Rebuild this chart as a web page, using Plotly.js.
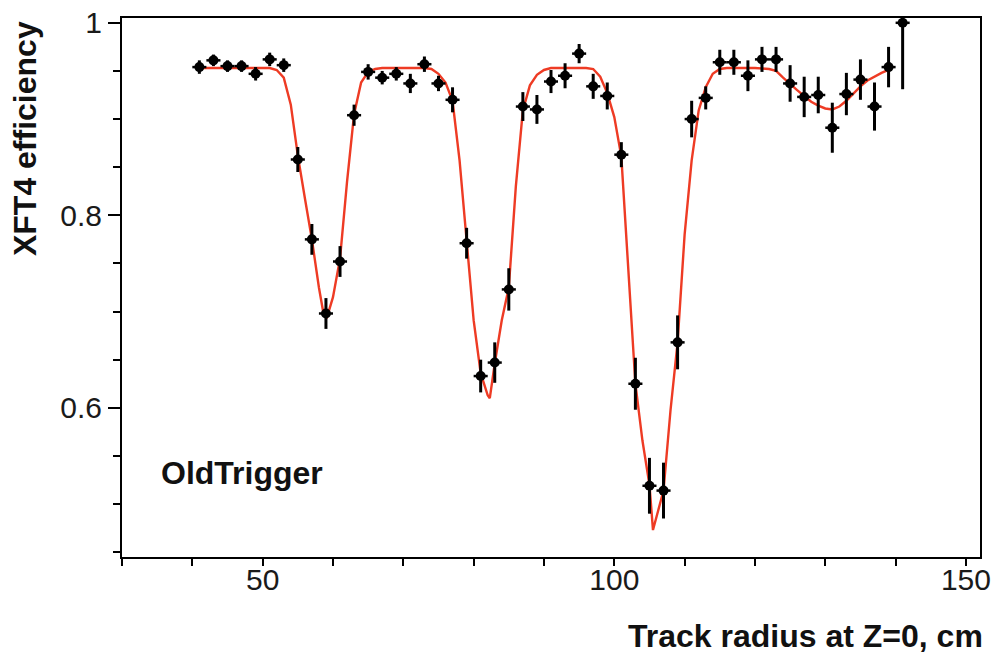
<!DOCTYPE html>
<html>
<head>
<meta charset="utf-8">
<script src="https://cdn.plot.ly/plotly-3.0.1.min.js"></script>
<style>
  html, body { margin: 0; padding: 0; background: #ffffff; }
  #chart { width: 994px; height: 654px; }
</style>
</head>
<body>
<div id="chart"></div>
<script>
// Track radius bins (cm)
const radius = [41, 43, 45, 47, 49, 51, 53, 55, 57, 59,
                61, 63, 65, 67, 69, 71, 73, 75, 77, 79,
                81, 83, 85, 87, 89, 91, 93, 95, 97, 99,
                101, 103, 105, 107, 109, 111, 113, 115, 117, 119,
                121, 123, 125, 127, 129, 131, 133, 135, 137, 139,
                141];
// XFT4 efficiency per bin
const efficiency = [0.954, 0.961, 0.955, 0.955, 0.947, 0.962, 0.956, 0.858, 0.775, 0.698,
                    0.752, 0.904, 0.949, 0.943, 0.947, 0.937, 0.957, 0.937, 0.920, 0.771,
                    0.633, 0.647, 0.723, 0.913, 0.910, 0.939, 0.945, 0.968, 0.934, 0.924,
                    0.863, 0.625, 0.519, 0.514, 0.668, 0.900, 0.922, 0.959, 0.959, 0.945,
                    0.962, 0.962, 0.937, 0.923, 0.925, 0.891, 0.926, 0.941, 0.913, 0.954,
                    1.000];
// statistical errors
const effError = [0.007, 0.006, 0.006, 0.006, 0.007, 0.007, 0.007, 0.013, 0.016, 0.016,
                  0.016, 0.011, 0.008, 0.007, 0.007, 0.010, 0.008, 0.008, 0.013, 0.016,
                  0.017, 0.021, 0.022, 0.015, 0.015, 0.012, 0.013, 0.010, 0.013, 0.014,
                  0.013, 0.027, 0.029, 0.029, 0.028, 0.019, 0.012, 0.013, 0.013, 0.016,
                  0.013, 0.013, 0.019, 0.021, 0.019, 0.026, 0.022, 0.021, 0.025, 0.021,
                  0.069];
// half bin width (cm)
const binHalf = [1,1,1,1,1,1,1,1,1,1, 1,1,1,1,1,1,1,1,1,1, 1,1,1,1,1,1,1,1,1,1,
                 1,1,1,1,1,1,1,1,1,1, 1,1,1,1,1,1,1,1,1,1, 1];

// fitted curve
const fitX = [41, 44, 47, 50, 51, 52, 53, 54, 55, 56, 57, 58, 58.6, 59.1, 60, 61, 62, 63, 64, 65, 66, 67,
              70, 73, 74, 75, 76, 77, 78, 79, 80, 81, 82, 82.3, 83, 84, 85, 86, 87, 88, 89, 90,
              91, 95, 96, 97, 98, 99, 100, 101, 102, 103, 104, 105, 105.5, 106, 107, 108, 109, 110, 111, 112, 113,
              114, 115, 116, 120, 122, 123, 124, 125, 126, 127, 128, 129, 130, 131, 132, 133, 134, 135, 136, 137, 138,
              139];
const fitY = [0.953, 0.953, 0.953, 0.953, 0.953, 0.951, 0.943, 0.915, 0.862, 0.818, 0.775, 0.725, 0.700, 0.693, 0.715, 0.755, 0.835, 0.905, 0.938, 0.949, 0.952, 0.953,
              0.953, 0.953, 0.952, 0.947, 0.938, 0.919, 0.857, 0.772, 0.691, 0.636, 0.613, 0.610, 0.646, 0.691, 0.725, 0.830, 0.909, 0.935, 0.946, 0.951,
              0.953, 0.953, 0.953, 0.952, 0.944, 0.927, 0.902, 0.861, 0.745, 0.625, 0.566, 0.520, 0.473, 0.487, 0.514, 0.598, 0.668, 0.780, 0.857, 0.909, 0.933,
              0.947, 0.952, 0.953, 0.953, 0.952, 0.950, 0.943, 0.936, 0.930, 0.924, 0.918, 0.914, 0.911, 0.910, 0.913, 0.919, 0.927, 0.934, 0.940, 0.944, 0.948,
              0.951];

const xTickVals = [50, 100, 150];
const xTickText = ['50', '100', '150'];
const yTickVals = [0.6, 0.8, 1.0];
const yTickText = ['0.6', '0.8', '1'];

const FONT = 'Liberation Sans, Arial, Helvetica, sans-serif';

const traces = [
  {
    type: 'scatter', mode: 'lines', x: fitX, y: fitY,
    line: { color: '#ee3b24', width: 2.4 },
    showlegend: false, hoverinfo: 'skip'
  },
  {
    type: 'scatter', mode: 'markers', x: radius, y: efficiency,
    marker: { symbol: 'circle', size: 10, color: '#000000' },
    error_y: { type: 'data', array: effError, visible: true, color: '#000000', thickness: 3, width: 0 },
    error_x: { type: 'data', array: binHalf, visible: true, color: '#000000', thickness: 2.5, width: 0 },
    showlegend: false, hoverinfo: 'x+y'
  }
];

const axisCommon = {
  showgrid: false, zeroline: false, showline: true, linecolor: '#000000', linewidth: 2,
  mirror: true, ticks: 'outside', tickcolor: '#000000', tickwidth: 2,
  tickfont: { family: FONT, size: 30, color: '#1a1a1a' }
};

const layout = {
  width: 994, height: 654,
  margin: { l: 122, r: 14, t: 18, b: 97, pad: 0 },
  paper_bgcolor: '#ffffff', plot_bgcolor: '#ffffff',
  xaxis: Object.assign({}, axisCommon, {
    range: [30, 152], tickmode: 'array', tickvals: xTickVals, ticktext: xTickText, ticklen: 7,
    ticklabelstandoff: -12,
    minor: { dtick: 10, tick0: 0, ticks: 'outside', ticklen: 7, tickwidth: 2, tickcolor: '#000000', showgrid: false }
  }),
  yaxis: Object.assign({}, axisCommon, {
    range: [0.445, 1.005], tickmode: 'array', tickvals: yTickVals, ticktext: yTickText, ticklen: 12,
    minor: { dtick: 0.05, tick0: 0, ticks: 'outside', ticklen: 7, tickwidth: 2, tickcolor: '#000000', showgrid: false }
  }),
  annotations: [
    { text: '<b>XFT4 efficiency</b>', xref: 'paper', yref: 'paper', x: -0.113, y: 0.7755,
      xanchor: 'center', yanchor: 'middle', textangle: -90, showarrow: false,
      font: { family: FONT, size: 32, color: '#111111' } },
    { text: '<b>Track radius at Z=0, cm</b>', xref: 'paper', yref: 'paper', x: 1.0058, y: -0.1466,
      xanchor: 'right', yanchor: 'middle', showarrow: false,
      font: { family: FONT, size: 32, color: '#111111' } },
    { text: '<b>OldTrigger</b>', xref: 'paper', yref: 'paper', x: 0.0431, y: 0.156,
      xanchor: 'left', yanchor: 'middle', showarrow: false,
      font: { family: FONT, size: 32, color: '#111111' } }
  ]
};

Plotly.newPlot('chart', traces, layout, { displayModeBar: false, staticPlot: true });
</script>
</body>
</html>
